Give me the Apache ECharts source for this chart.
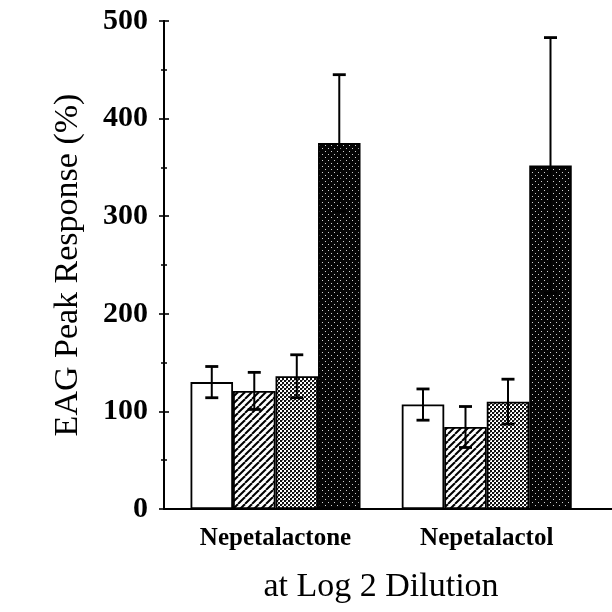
<!DOCTYPE html>
<html>
<head>
<meta charset="utf-8">
<script src="https://cdn.jsdelivr.net/npm/echarts@6/dist/echarts.min.js"></script>
<style>
html,body{margin:0;padding:0;background:#fff;}
#chart{width:612px;height:612px;}
</style>
</head>
<body>
<div id="chart"></div>
<script>
// ---- data ----
var categories = ['Nepetalactone', 'Nepetalactol'];
var groupPos = [1, 2];
var whiteVals = [130, 107];
var whiteErr  = [16, 16];
var hatchVals = [121, 84];
var hatchErr  = [19, 21];
var lightVals = [136, 110];
var lightErr  = [22, 23];
var darkVals  = [375, 352];
var darkErr   = [70, 131];
var yTicks = [0, 100, 200, 300, 400, 500];
var yTitle = 'EAG Peak Response (%)';
var xTitle = 'at Log 2 Dilution';

// ---- patterns ----
function makeCanvas(w, h, draw) {
  var c = document.createElement('canvas');
  c.width = w; c.height = h;
  var ctx = c.getContext('2d');
  draw(ctx, w, h);
  return c;
}
var hatchCanvas = makeCanvas(7, 7, function (ctx, w, h) {
  ctx.fillStyle = '#fff'; ctx.fillRect(0, 0, w, h);
  ctx.strokeStyle = '#000'; ctx.lineWidth = 2;
  [-w, 0, w].forEach(function (o) {
    ctx.beginPath(); ctx.moveTo(o, h); ctx.lineTo(o + w, 0); ctx.stroke();
  });
});
var lightCanvas = makeCanvas(4, 4, function (ctx, w, h) {
  ctx.fillStyle = '#fff'; ctx.fillRect(0, 0, w, h);
  ctx.fillStyle = '#111';
  ctx.fillRect(0, 0, 2, 2); ctx.fillRect(2, 2, 2, 2);
  ctx.fillStyle = '#888';
  ctx.fillRect(2, 0, 1, 1);
});
var darkCanvas = makeCanvas(6, 6, function (ctx, w, h) {
  ctx.fillStyle = '#050505'; ctx.fillRect(0, 0, w, h);
  ctx.fillStyle = '#d0d0d0';
  ctx.fillRect(1, 1, 1, 1); ctx.fillRect(4, 4, 1, 1);
});
var fills = [
  '#ffffff',
  { image: hatchCanvas, repeat: 'repeat' },
  { image: lightCanvas, repeat: 'repeat' },
  { image: darkCanvas, repeat: 'repeat' }
];

var BAR_W = 42.5;
var valsList = [whiteVals, hatchVals, lightVals, darkVals];
var errList = [whiteErr, hatchErr, lightErr, darkErr];

function pairs(vals) {
  return vals.map(function (v, i) { return [groupPos[i], v]; });
}

var series = [];
valsList.forEach(function (vals, k) {
  series.push({
    type: 'bar',
    data: pairs(vals),
    barWidth: BAR_W,
    barGap: '0%',
    itemStyle: { color: fills[k], borderColor: '#000', borderWidth: 1.8 },
    emphasis: { disabled: true },
    z: 2
  });
});
valsList.forEach(function (vals, k) {
  var data = vals.map(function (v, i) { return [groupPos[i], v, errList[k][i]]; });
  series.push({
    type: 'custom',
    data: data,
    z: 5,
    renderItem: function (params, api) {
      var gx = api.value(0), v = api.value(1), e = api.value(2);
      var top = api.coord([gx, v + e]);
      var bot = api.coord([gx, v - e]);
      var x = top[0] + (k - 1.5) * BAR_W;
      var cap = 6.5;
      var st = { stroke: '#000', lineWidth: 2 };
      return {
        type: 'group',
        children: [
          { type: 'line', shape: { x1: x, y1: top[1], x2: x, y2: bot[1] }, style: st },
          { type: 'line', shape: { x1: x - cap, y1: top[1], x2: x + cap, y2: top[1] }, style: { stroke: '#000', lineWidth: 2.8 } },
          { type: 'line', shape: { x1: x - cap, y1: bot[1], x2: x + cap, y2: bot[1] }, style: { stroke: '#000', lineWidth: 2.8 } }
        ]
      };
    }
  });
});

var serif = 'Liberation Serif';
var yCommon = {
  type: 'value', min: yTicks[0], max: yTicks[yTicks.length - 1], interval: 100,
  position: 'left',
  splitLine: { show: false },
  axisLine: { show: true, lineStyle: { color: '#000', width: 2 } },
  minorTick: { show: true, splitNumber: 2, length: 3, lineStyle: { color: '#000', width: 1.5 } },
  minorSplitLine: { show: false }
};

var chart = echarts.init(document.getElementById('chart'), null, { renderer: 'canvas' });
chart.setOption({
  animation: false,
  backgroundColor: '#fff',
  title: {
    text: xTitle, left: 381, top: 570, textAlign: 'center', padding: 0,
    textStyle: { fontFamily: serif, fontSize: 34, fontWeight: 'normal', color: '#000' }
  },
  grid: { left: 164, right: 0, top: 21, bottom: 103, containLabel: false },
  xAxis: {
    type: 'value', min: 0.472, max: 2.593,
    splitLine: { show: false },
    axisLine: { show: true, onZero: false, lineStyle: { color: '#000', width: 2 } },
    axisTick: { show: false },
    axisLabel: {
      customValues: groupPos,
      formatter: function (v) {
        var i = groupPos.indexOf(v);
        return i >= 0 ? categories[i] : '';
      },
      margin: 17,
      fontFamily: serif, fontSize: 25, fontWeight: 'bold', color: '#000'
    }
  },
  yAxis: [
    Object.assign({}, yCommon, {
      name: yTitle, nameLocation: 'middle', nameGap: 79, nameRotate: 90,
      nameTextStyle: { fontFamily: serif, fontSize: 34, color: '#000' },
      axisTick: { show: true, inside: false, length: 5, lineStyle: { color: '#000', width: 1.6 } },
      axisLabel: { fontFamily: serif, fontSize: 30, fontWeight: 'bold', color: '#000', margin: 16 }
    }),
    Object.assign({}, yCommon, {
      axisTick: { show: true, inside: true, length: 5, lineStyle: { color: '#000', width: 1.6 } },
      axisLabel: { show: false }
    })
  ],
  series: series
});
</script>
</body>
</html>
